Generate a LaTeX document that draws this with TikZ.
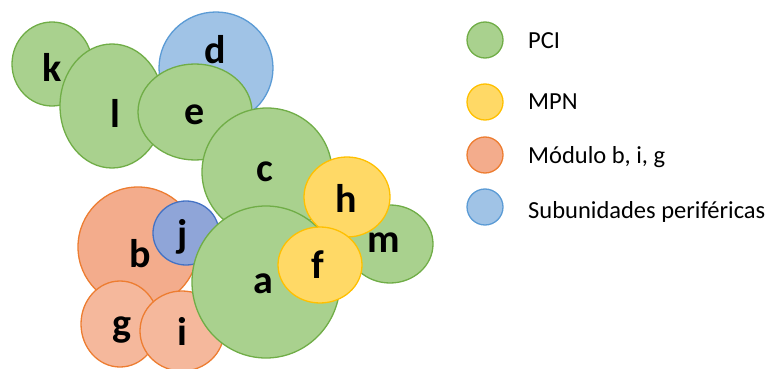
\documentclass[tikz,border=0pt]{standalone}
\usepackage{fontspec}
\setmainfont{Carlito}
\usetikzlibrary{shapes.geometric}
\definecolor{gfill}{HTML}{A9D18E}\definecolor{gline}{HTML}{70AD47}
\definecolor{yfill}{HTML}{FFD966}\definecolor{yline}{HTML}{FFC000}
\definecolor{ofill}{HTML}{F3AC8C}\definecolor{oline}{HTML}{ED7D31}
\definecolor{o2fill}{HTML}{F5B89C}
\definecolor{bfill}{HTML}{A0C3E6}\definecolor{bline}{HTML}{5B9BD5}
\definecolor{jfill}{HTML}{8FA5D8}\definecolor{jline}{HTML}{4472C4}
\tikzset{
 blob/.style={ellipse, inner sep=0pt, line width=1.3pt},
 gr/.style={blob, fill=gfill, draw=gline},
 ye/.style={blob, fill=yfill, draw=yline},
 orr/.style={blob, fill=ofill, draw=oline},
 orl/.style={blob, fill=o2fill, draw=oline},
 bl/.style={blob, fill=bfill, draw=bline},
 bj/.style={blob, fill=jfill, draw=jline},
 lt/.style={font=\fontsize{40}{40}\selectfont\bfseries, inner sep=0pt},
 legt/.style={font=\fontsize{24.5}{25}\selectfont, anchor=base west, inner sep=0pt},
}
\newcommand{\bub}[6]{\node[#1, minimum width=#4pt, minimum height=#5pt] (#6) at (#2,#3) {};}
\begin{document}
\begin{tikzpicture}[x=1pt,y=-1pt]
\useasboundingbox (0,0) rectangle (766,369);
\bub{gr}{52}{64}{80}{84}{k}
\bub{gr}{112}{106}{104}{124}{l}
\bub{bl}{216}{68}{114}{112}{d}
\bub{gr}{195}{112}{114}{96}{e}
\bub{orr}{138}{247}{120}{120}{b}
\bub{bj}{186}{233}{66}{64}{j}
\bub{orl}{120}{324}{78}{86}{g}
\bub{orl}{182}{331}{84}{80}{i}
\bub{gr}{267}{172}{130}{128}{c}
\bub{gr}{390}{244}{86}{78}{m}
\bub{gr}{266}{282}{148}{152}{a}
\bub{ye}{347}{197}{86}{80}{h}
\bub{ye}{320}{265}{84}{76}{f}
\node[lt] (tk) at (52,67) {k};
\node[lt] (tl) at (115,113) {l};
\node[lt] (td) at (215,50) {d};
\node[lt] (te) at (195,115) {e};
\node[lt] (tc) at (265,172) {c};
\node[lt] (th) at (346,198) {h};
\node[lt] (tm) at (384,243) {m};
\node[lt] (tf) at (318,265) {f};
\node[lt] (ta) at (263,284) {a};
\node[lt] (tb) at (140,254) {b};
\node[lt] (tj) at (183,237) {j};
\node[lt] (tg) at (122,330) {g};
\node[lt] (ti) at (182,331) {i};
% legend
\bub{gr}{485}{40}{36}{36}{L1}
\bub{ye}{485}{102}{36}{36}{L2}
\bub{orr}{485}{155}{36}{36}{L3}
\bub{bl}{485}{207}{36}{36}{L4}
\node[legt] (t1) at (528,49) {PCI};
\node[legt] (t2) at (528,110) {MPN};
\node[legt] (t3) at (528,163) {Módulo b, i, g};
\node[legt] (t4) at (528,218) {Subunidades periféricas};
\end{tikzpicture}
\end{document}
